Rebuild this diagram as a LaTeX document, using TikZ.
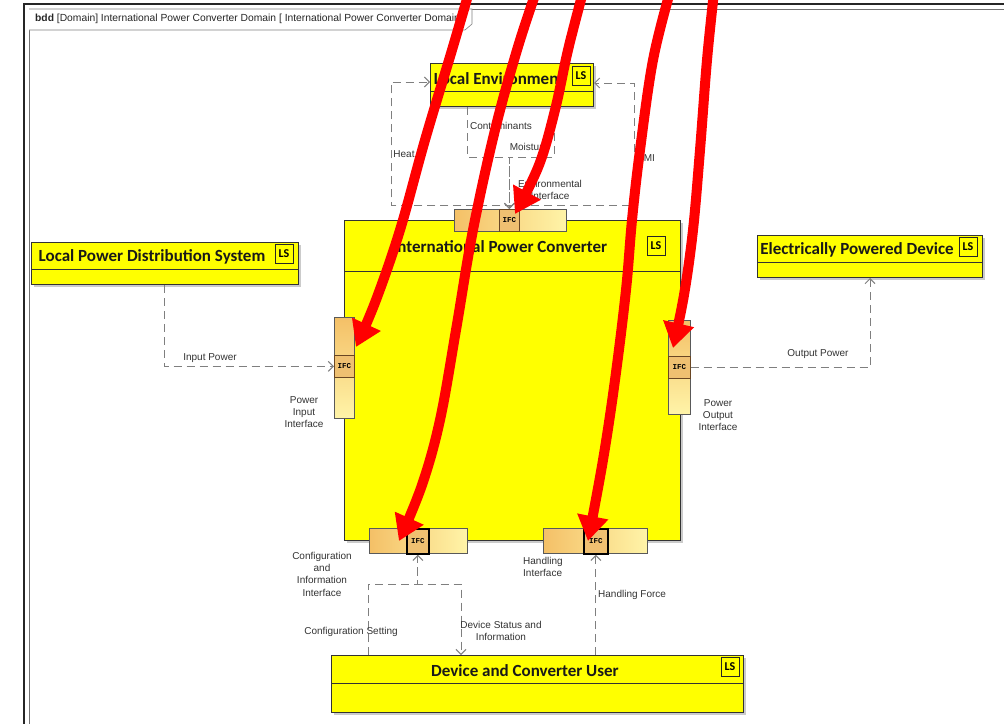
\documentclass[tikz,border=0pt]{standalone}
\usepackage{fontspec}
\setmainfont{Liberation Sans}
\newfontfamily\titlefont{Carlito}
\newfontfamily\ifcfontfam{Liberation Mono}
\usetikzlibrary{arrows.meta,calc,shadows}
\definecolor{blockyellow}{HTML}{FFFF00}
\definecolor{portdark}{HTML}{F4C067}
\definecolor{portlight}{HTML}{FFF4A8}
\definecolor{ifcfill}{HTML}{EFC071}
\definecolor{conngray}{HTML}{7F7F7F}
\definecolor{txtgray}{HTML}{333333}
\begin{document}
\begin{tikzpicture}[x=1pt,y=-1pt,
  frameO/.style={line width=1.6pt, draw=black!85},
  frameI/.style={line width=0.7pt, draw=black!55},
  blk/.style={draw=black!80, fill=blockyellow, line width=1pt, anchor=north west, inner sep=0pt,
     drop shadow={shadow xshift=2.5pt,shadow yshift=-2.5pt,fill=black!45,opacity=0.45}},
  ttl/.style={font=\titlefont\bfseries\fontsize{17}{20}\selectfont, text=black!90, inner sep=0pt},
  ls/.style={draw=black!85, fill=blockyellow, line width=0.9pt, minimum width=18pt, minimum height=19pt,
     inner sep=0pt, font=\titlefont\bfseries\fontsize{12}{12}\selectfont},
  divl/.style={draw=black!80, line width=0.8pt},
  portv/.style={draw=black!65, line width=0.7pt, top color=portdark, bottom color=portlight, anchor=north west, inner sep=0pt},
  porth/.style={draw=black!65, line width=0.7pt, left color=portdark, right color=portlight, anchor=north west, inner sep=0pt},
  ifc/.style={draw=brown!55!black, fill=ifcfill, line width=0.7pt, inner sep=0pt, anchor=north west,
     font=\ifcfontfam\bfseries\fontsize{7.5}{7.5}\selectfont},
  ifcsel/.style={ifc, draw=black, line width=1.8pt},
  conn/.style={draw=conngray, line width=1pt, dash pattern=on 8pt off 5pt},
  tip/.style={-{Straight Barb[length=5pt,width=10pt]}},
  lbl/.style={font=\fontsize{10}{12.3}\selectfont, text=txtgray, align=center, inner sep=0pt},
  redarr/.style={draw=red, line width=10pt, -{Triangle[length=25pt,width=30pt]}}
]
\useasboundingbox (0,0) rectangle (1004,723);
\fill[white] (0,0) rectangle (1004,723);

% frame
\draw[frameO] (24,730) -- (24,4) -- (1010,4);
\draw[frameI] (29,730) -- (29,9) -- (1010,9);
\draw[draw=black!50, fill=white, line width=0.6pt] (29,9) -- (472,9) -- (472,24) -- (465,30) -- (29,30);
\node[anchor=west, inner sep=0pt, font=\fontsize{10.3}{11}\selectfont, text=black!85] (tab) at (35,19)
  {\textbf{bdd} [Domain] International Power Converter Domain [ International Power Converter Domain};

% blocks
\node[blk, minimum width=163pt, minimum height=43pt] (le) at (430,63) {};
\draw[divl] (le.west |- 0,91) -- (le.east |- 0,91);
\node[ttl] (leT) at (499,79) {Local Environment};
\node[ls] (leLS) at (581,76) {LS};

\node[blk, minimum width=336pt, minimum height=320pt] (ipc) at (344,220) {};
\draw[divl] (ipc.west |- 0,271) -- (ipc.east |- 0,271);
\node[ttl] (ipcT) at (500,247) {International Power Converter};
\node[ls] (ipcLS) at (656,246) {LS};

\node[blk, minimum width=267pt, minimum height=42pt] (lpds) at (31,242) {};
\draw[divl] (lpds.west |- 0,269) -- (lpds.east |- 0,269);
\node[ttl] (lpdsT) at (152,257) {Local Power Distribution System};
\node[ls] (lpdsLS) at (284,254) {LS};

\node[blk, minimum width=225pt, minimum height=42pt] (epd) at (757,235) {};
\draw[divl] (epd.west |- 0,262) -- (epd.east |- 0,262);
\node[ttl] (epdT) at (857,250) {Electrically Powered Device};
\node[ls] (epdLS) at (968,247) {LS};

\node[blk, minimum width=412pt, minimum height=57pt] (dcu) at (331,655) {};
\draw[divl] (dcu.west |- 0,683) -- (dcu.east |- 0,683);
\node[ttl] (dcuT) at (525,671) {Device and Converter User};
\node[ls] (dcuLS) at (730,667) {LS};

% ports
\node[porth, minimum width=112pt, minimum height=22pt] (pT) at (454,209) {};
\node[ifc, minimum width=20pt, minimum height=22pt] (ifcT) at (499,209) {IFC};
\node[portv, minimum width=20pt, minimum height=101pt] (pL) at (334,317) {};
\node[ifc, minimum width=20pt, minimum height=22pt] (ifcL) at (334,355) {IFC};
\node[portv, minimum width=22pt, minimum height=94pt] (pR) at (668,320) {};
\node[ifc, minimum width=22pt, minimum height=22pt] (ifcR) at (668,356) {IFC};
\node[porth, minimum width=98pt, minimum height=25pt] (pC) at (369,528) {};
\node[ifcsel, minimum width=22pt, minimum height=25pt] (ifcC) at (406,528) {IFC};
\node[porth, minimum width=104pt, minimum height=25pt] (pH) at (543,528) {};
\node[ifcsel, minimum width=24pt, minimum height=25pt] (ifcH) at (583,528) {IFC};

% connectors
\draw[conn, tip] (lpds.south -| 164,0) -- (164,0 |- ifcL.west) -- (ifcL.west);
\draw[conn, tip] (ifcR.east) -- (870,0 |- ifcR.east) -- (870,0 |- epd.south);
\draw[conn, tip] (ifcT.north) -- (ifcT.north |- 0,205) -- (391,205) -- (391,82) -- (le.west |- 0,82);
\draw[conn, tip] (ifcT.north) -- (ifcT.north |- 0,205) -- (634,205) -- (634,83) -- (le.east |- 0,83);
\draw[conn, tip] (le.south -| 467,0) -- (467,157) -- (ifcT.north |- 0,157) -- (ifcT.north);
\draw[conn, tip] (le.south -| 554,0) -- (554,157) -- (ifcT.north |- 0,157) -- (ifcT.north);
\draw[conn, tip] (dcu.north -| 368,0) -- (368,584) -- (ifcC.south |- 0,584) -- (ifcC.south);
\draw[conn, tip] (ifcC.south) -- (ifcC.south |- 0,584) -- (461,584) -- (dcu.north -| 461,0);
\draw[conn, tip] (dcu.north -| ifcH.south) -- (ifcH.south);

% labels
\node[lbl] (lInput) at (210,358) {Input Power};
\node[lbl] (lOutput) at (818,354) {Output Power};
\node[lbl] (lHeat) at (404,154) {Heat};
\node[lbl] (lCont) at (501,126) {Contaminants};
\node[lbl] (lMoist) at (529,147) {Moisture};
\node[lbl] (lEnv) at (550,190) {Environmental\\Interface};
\node[lbl] (lEMI) at (646,158) {EMI};
\node[lbl] (lPI) at (304,412) {Power\\Input\\Interface};
\node[lbl] (lPO) at (718,415) {Power\\Output\\Interface};
\node[lbl] (lCI) at (322,574) {Configuration\\and\\Information\\Interface};
\node[lbl, anchor=west, align=left] (lHI) at (523,567) {Handling\\Interface};
\node[lbl] (lCS) at (351,632) {Configuration Setting};
\node[lbl] (lDS) at (501,631) {Device Status and\\Information};
\node[lbl, anchor=west] (lHF) at (598,595) {Handling Force};

% red annotation arrows
\coordinate (r1) at (356,347);
\coordinate (r2) at (399,541);
\coordinate (r3) at (515,214);
\coordinate (r4) at (588,541);
\coordinate (r5) at (673,348);
\draw[redarr] plot[smooth, tension=0.6] coordinates {(469,-8) (452,50) (425,140) (400,230) (376,300) (r1)};
\draw[redarr] plot[smooth, tension=0.6] coordinates {(536,-8) (517,50) (495,130) (473,230) (456,330) (440,420) (422,485) (r2)};
\draw[redarr] plot[smooth, tension=0.6] coordinates {(583,-8) (568,50) (555,110) (539,165) (r3)};
\draw[redarr] plot[smooth, tension=0.6] coordinates {(670,-8) (653,60) (640,150) (632,220) (626,290) (615,380) (603,460) (r4)};
\draw[redarr] plot[smooth, tension=0.6] coordinates {(714,-8) (707,60) (700,150) (693,230) (684,295) (r5)};
\end{tikzpicture}
\end{document}
